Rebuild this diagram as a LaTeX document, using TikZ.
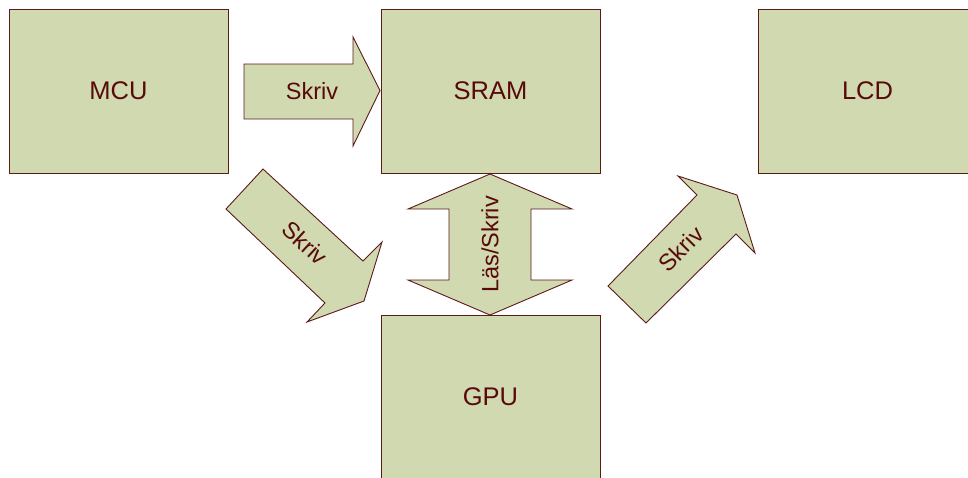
\documentclass[tikz,border=0pt]{standalone}
\usepackage{fontspec}
\setmainfont{Liberation Sans}
\definecolor{boxfill}{RGB}{209,217,176}
\definecolor{boxline}{RGB}{92,26,26}
\definecolor{boxtext}{RGB}{88,10,10}
\begin{document}
\begin{tikzpicture}[x=1pt,y=-1pt,
  unit/.style={draw=boxline,fill=boxfill,line width=0.9pt,rectangle,
    minimum width=219pt,minimum height=164pt,inner sep=0pt,
    text=boxtext,font=\fontsize{25.5}{29}\selectfont},
  blockarrow/.style={draw=boxline,fill=boxfill,line width=0.9pt,line join=miter},
  arrowlabel/.style={text=boxtext,inner sep=0pt,font=\fontsize{23.5}{27}\selectfont}]
\useasboundingbox (0,0) rectangle (968,477);
\begin{scope}
\clip (0,0) rectangle (968,477);
% units
\node[unit] (mcu)  at (118.5,91) {MCU};
\node[unit] (sram) at (490.5,91) {SRAM};
\node[unit] (lcd)  at (867.5,91) {LCD};
\node[unit] (gpu)  at (490.5,397) {GPU};
% MCU -> SRAM
\draw[blockarrow] (244,64) -- (353,64) -- (353,37) -- (380,90.5) -- (353,146)
  -- (353,119) -- (244,119) -- cycle;
\node[arrowlabel] (w1) at (312,91) {Skriv};
% SRAM <-> GPU
\draw[blockarrow] (490,174) -- (572,209) -- (531,209) -- (531,280) -- (572,280)
  -- (490,315) -- (408,280) -- (449,280) -- (449,209) -- (408,209) -- cycle;
\node[arrowlabel,rotate=90] (rw) at (490,244.5) {Läs/Skriv};
% MCU -> GPU
\draw[blockarrow] (263,169) -- (363,261) -- (382,242) -- (364,301) -- (307,322)
  -- (325,303) -- (226,209) -- cycle;
\node[arrowlabel,rotate=-42.6] (w2) at (305,243) {Skriv};
% GPU -> LCD
\draw[blockarrow] (608,286) -- (697,195) -- (678,176) -- (737,195) -- (755,253)
  -- (736,234) -- (646,323) -- cycle;
\node[arrowlabel,rotate=45.6] (w3) at (681,249) {Skriv};
\end{scope}
\end{tikzpicture}
\end{document}
